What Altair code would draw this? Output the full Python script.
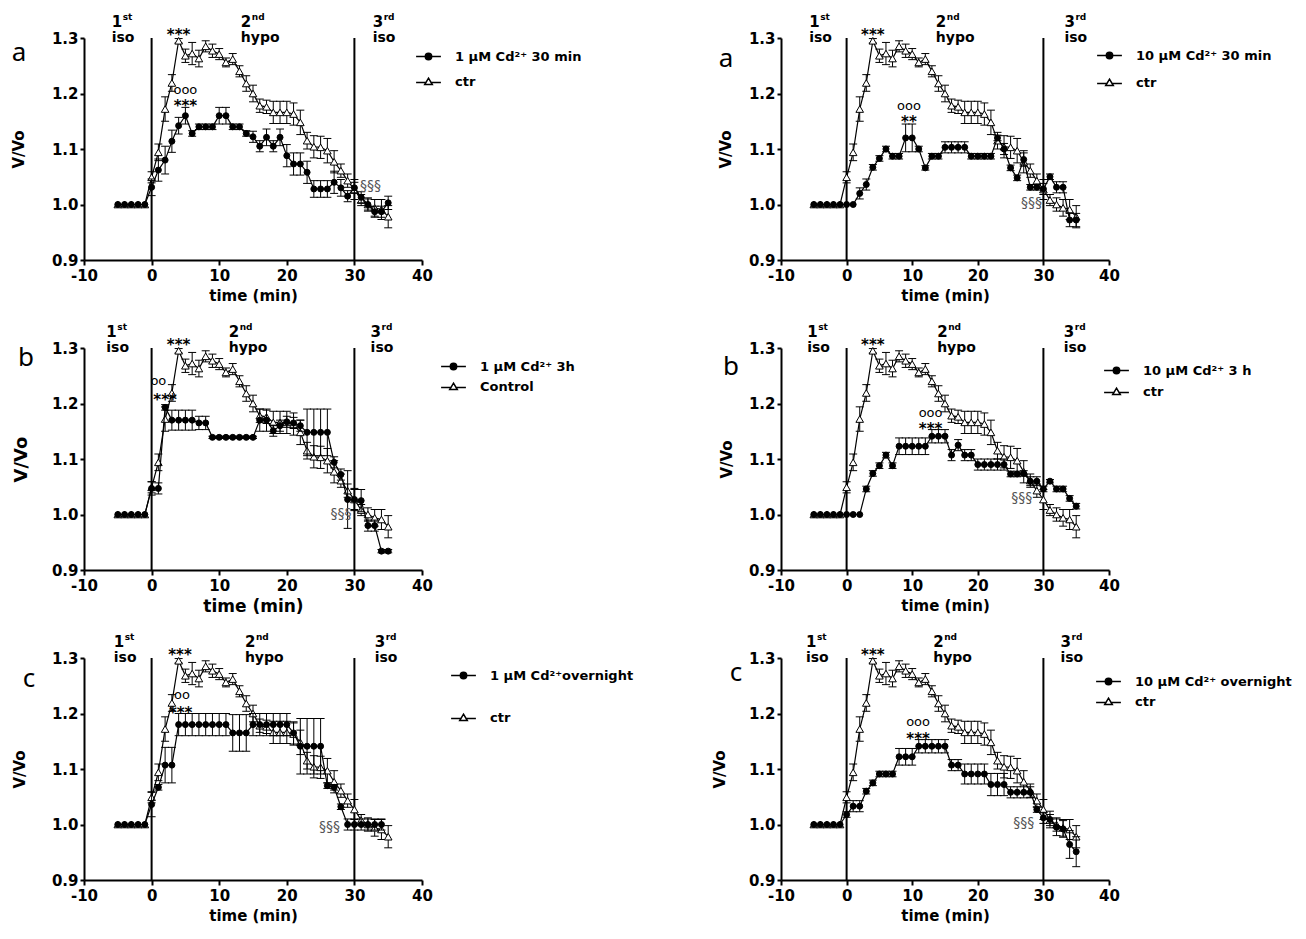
import altair as alt
import pandas as pd

FONT = "DejaVu Sans"
T = list(range(-5, 36))
XTICKS = [-10, 0, 10, 20, 30, 40]
YTICKS = [0.9, 1.0, 1.1, 1.2, 1.3]
VLINES = [0, 30]

CTR_MEAN = [1.000, 1.000, 1.000, 1.000, 1.000,
            1.049, 1.094, 1.172, 1.219, 1.295, 1.268, 1.272, 1.263, 1.285, 1.277,
            1.271, 1.256, 1.262, 1.240, 1.218, 1.200, 1.178, 1.176, 1.166, 1.166,
            1.166, 1.163, 1.148, 1.115, 1.104, 1.103, 1.097, 1.077, 1.061, 1.043,
            1.027, 1.008, 1.000, 0.994, 0.991, 0.978]
CTR_ERR = [0, 0, 0, 0, 0,
           0.010, 0.015, 0.022, 0.015, 0.004, 0.012, 0.020, 0.015, 0.010, 0.012,
           0.010, 0.008, 0.010, 0.010, 0.014, 0.015, 0.012, 0.012, 0.020, 0.020,
           0.020, 0.020, 0.022, 0.015, 0.020, 0.020, 0.022, 0.020, 0.012, 0.012,
           0.018, 0.010, 0.012, 0.015, 0.018, 0.020]

CD1_30_MEAN = [1.000, 1.000, 1.000, 1.000, 1.000,
               1.031, 1.062, 1.080, 1.114, 1.142, 1.160, 1.128, 1.140, 1.140, 1.140,
               1.160, 1.160, 1.140, 1.140, 1.128, 1.122, 1.105, 1.121, 1.105, 1.121,
               1.088, 1.073, 1.073, 1.058, 1.028, 1.028, 1.028, 1.040, 1.030, 1.015,
               1.030, 1.013, 1.000, 0.987, 0.987, 1.003]
CD1_30_ERR = [0, 0, 0, 0, 0,
              0.015, 0.020, 0.025, 0.020, 0.015, 0.015, 0.005, 0.005, 0.005, 0.005,
              0.015, 0.015, 0.005, 0.005, 0.005, 0.010, 0.010, 0.015, 0.010, 0.015,
              0.020, 0.020, 0.020, 0.020, 0.015, 0.015, 0.015, 0.020, 0.015, 0.010,
              0.010, 0.010, 0.010, 0.010, 0.010, 0.012]

CD10_30_MEAN = [1.000, 1.000, 1.000, 1.000, 1.000, 1.000, 1.000,
                1.020, 1.036, 1.067, 1.083, 1.100, 1.087, 1.087, 1.120,
                1.120, 1.100, 1.066, 1.087, 1.087, 1.103, 1.103, 1.103, 1.103, 1.087,
                1.087, 1.087, 1.087, 1.120, 1.100, 1.066, 1.048, 1.081, 1.031, 1.031,
                1.028, 1.050, 1.031, 1.031, 0.972, 0.972]
CD10_30_ERR = [0, 0, 0, 0, 0, 0, 0,
               0.010, 0.010, 0.005, 0.005, 0.005, 0.005, 0.005, 0.025,
               0.025, 0.005, 0.004, 0.005, 0.005, 0.010, 0.010, 0.010, 0.010, 0.005,
               0.005, 0.005, 0.005, 0.005, 0.010, 0.005, 0.005, 0.012, 0.005, 0.005,
               0.010, 0.005, 0.010, 0.010, 0.012, 0.012]

CD1_3H_MEAN = [1.000, 1.000, 1.000, 1.000, 1.000,
               1.047, 1.047, 1.193, 1.170, 1.170, 1.170, 1.170, 1.165, 1.165, 1.139,
               1.139, 1.139, 1.139, 1.139, 1.139, 1.139, 1.170, 1.170, 1.151, 1.160,
               1.167, 1.165, 1.160, 1.148, 1.148, 1.148, 1.148, 1.094, 1.072, 1.027,
               1.027, 1.025, 0.980, 0.980, 0.934, 0.934]
CD1_3H_ERR = [0, 0, 0, 0, 0,
              0.012, 0.010, 0.005, 0.018, 0.018, 0.018, 0.018, 0.012, 0.012, 0.002,
              0.002, 0.002, 0.002, 0.002, 0.002, 0.002, 0.020, 0.020, 0.010, 0.010,
              0.010, 0.010, 0.010, 0.042, 0.042, 0.042, 0.042, 0.010, 0.010, 0.052,
              0.020, 0.020, 0.010, 0.010, 0.003, 0.003]

CD10_3H_MEAN = [1.000, 1.000, 1.000, 1.000, 1.000, 1.000, 1.000, 1.000,
                1.046, 1.074, 1.088, 1.107, 1.088, 1.123, 1.123,
                1.123, 1.123, 1.123, 1.141, 1.141, 1.141, 1.107, 1.125, 1.107, 1.107,
                1.090, 1.090, 1.090, 1.090, 1.090, 1.073, 1.073, 1.074, 1.060, 1.060,
                1.046, 1.060, 1.046, 1.046, 1.029, 1.015]
CD10_3H_ERR = [0, 0, 0, 0, 0, 0, 0, 0,
               0.005, 0.005, 0.005, 0.005, 0.005, 0.015, 0.015,
               0.015, 0.015, 0.015, 0.012, 0.012, 0.012, 0.010, 0.010, 0.010, 0.010,
               0.010, 0.010, 0.010, 0.010, 0.010, 0.005, 0.005, 0.005, 0.008, 0.008,
               0.005, 0.003, 0.005, 0.005, 0.005, 0.005]

CD1_ON_MEAN = [1.000, 1.000, 1.000, 1.000, 1.000,
               1.036, 1.067, 1.107, 1.107, 1.180, 1.180, 1.180, 1.180, 1.180, 1.180,
               1.180, 1.180, 1.165, 1.165, 1.165, 1.180, 1.180, 1.180, 1.180, 1.180,
               1.180, 1.165, 1.141, 1.141, 1.141, 1.141, 1.070, 1.067, 1.032, 1.000,
               1.000, 1.000, 1.000, 1.000, 1.000, None]
CD1_ON_ERR = [0, 0, 0, 0, 0,
              0.022, 0.005, 0.032, 0.032, 0.020, 0.020, 0.020, 0.020, 0.020, 0.020,
              0.020, 0.020, 0.033, 0.033, 0.033, 0.020, 0.020, 0.020, 0.020, 0.020,
              0.020, 0.020, 0.050, 0.050, 0.050, 0.050, 0.005, 0.005, 0.005, 0.010,
              0.010, 0.010, 0.010, 0.010, 0.010, None]

CD10_ON_MEAN = [1.000, 1.000, 1.000, 1.000, 1.000,
                1.018, 1.033, 1.033, 1.060, 1.075, 1.091, 1.091, 1.091, 1.122, 1.122,
                1.122, 1.141, 1.141, 1.141, 1.141, 1.141, 1.107, 1.107, 1.091, 1.091,
                1.091, 1.091, 1.072, 1.072, 1.072, 1.058, 1.058, 1.058, 1.058, 1.027,
                1.012, 1.009, 0.995, 0.992, 0.964, 0.951]
CD10_ON_ERR = [0, 0, 0, 0, 0,
               0.005, 0.010, 0.010, 0.005, 0.005, 0.005, 0.005, 0.005, 0.015, 0.015,
               0.015, 0.012, 0.012, 0.012, 0.012, 0.012, 0.010, 0.010, 0.018, 0.018,
               0.018, 0.018, 0.020, 0.020, 0.020, 0.010, 0.010, 0.010, 0.010, 0.005,
               0.010, 0.015, 0.015, 0.015, 0.025, 0.027]

CIRCLE_PATH = ("M-3.1,0H-0.8M0.8,0H3.1"
               "M0.8,0A0.8,0.8,0,1,1,-0.8,0A0.8,0.8,0,1,1,0.8,0Z")
TRI_PATH = "M-3.1,0.25H-0.66M0.66,0.25H3.1M0,-0.85L0.95,0.75L-0.95,0.75Z"

PANELS = [
    dict(mean=CD1_30_MEAN, err=CD1_30_ERR, cd="1 μM Cd²⁺ 30 min", ctr="ctr",
         letter="a", lx=-65, ly=23, width=338, yts=15, ytp=25, xts=15,
         leg=(330, 18, 25), periods=(-5.9, 13.2, 32.7),
         notes=[("***", 4, 1.312, "star"), ("ooo", 5, 1.205, "circ"),
                ("***", 5, 1.185, "star"), ("§§§", 32.4, 1.034, "sec")]),
    dict(mean=CD10_30_MEAN, err=CD10_30_ERR, cd="10 μM Cd²⁺ 30 min", ctr="ctr",
         letter="a", lx=-55, ly=29, width=328, yts=15, ytp=15, xts=15,
         leg=(314, 17, 27), periods=(-5.7, 13.6, 33.2),
         notes=[("***", 4, 1.312, "star"), ("ooo", 9.5, 1.175, "circ"),
                ("**", 9.5, 1.155, "star"), ("§§§", 28.2, 1.003, "sec")]),
    dict(mean=CD1_3H_MEAN, err=CD1_3H_ERR, cd="1 μM Cd²⁺ 3h", ctr="Control",
         letter="b", lx=-58, ly=18, width=338, yts=18, ytp=21, xts=17,
         leg=(355, 18, 20), periods=(-6.7, 11.4, 32.4),
         notes=[("***", 4, 1.312, "star"), ("oo", 1.0, 1.238, "circ"),
                ("***", 2.0, 1.214, "star"), ("§§§", 28.0, 1.001, "sec")]),
    dict(mean=CD10_3H_MEAN, err=CD10_3H_ERR, cd="10 μM Cd²⁺ 3 h", ctr="ctr",
         letter="b", lx=-50, ly=27, width=328, yts=15, ytp=14, xts=15,
         leg=(321, 22, 21), periods=(-6.0, 13.8, 33.1),
         notes=[("***", 4, 1.312, "star"), ("ooo", 12.8, 1.181, "circ"),
                ("***", 12.8, 1.161, "star"), ("§§§", 26.7, 1.030, "sec")]),
    dict(mean=CD1_ON_MEAN, err=CD1_ON_ERR, cd="1 μM Cd²⁺overnight", ctr="ctr",
         letter="c", lx=-55, ly=29, width=338, yts=15, ytp=24, xts=15,
         leg=(365, 17, 42), periods=(-5.6, 13.8, 33.0),
         notes=[("***", 4.2, 1.312, "star"), ("oo", 4.5, 1.232, "circ"),
                ("***", 4.3, 1.208, "star"), ("§§§", 26.3, 0.995, "sec")]),
    dict(mean=CD10_ON_MEAN, err=CD10_ON_ERR, cd="10 μM Cd²⁺ overnight", ctr="ctr",
         letter="c", lx=-45, ly=23, width=328, yts=15, ytp=21, xts=15,
         leg=(313, 23, 20), periods=(-6.2, 13.2, 32.6),
         notes=[("***", 4, 1.312, "star"), ("ooo", 10.9, 1.183, "circ"),
                ("***", 10.9, 1.162, "star"), ("§§§", 27.0, 1.003, "sec")]),
]

NOTE_STYLE = {
    "star": dict(fontSize=15, fontWeight="bold", color="black", dy=9),
    "circ": dict(fontSize=13, fontWeight="normal", color="black", dy=3),
    "sec": dict(fontSize=14, fontWeight="normal", color="#555555", dy=4),
}


def series_frame(p):
    rows = []
    for name, means, errs in (("ctr", CTR_MEAN, CTR_ERR), ("cd", p["mean"], p["err"])):
        for t, m, e in zip(T, means, errs):
            if m is None:
                continue
            rows.append({"t": t, "v": m, "lo": m - e, "hi": m + e, "e": e, "series": name})
    return pd.DataFrame(rows)


def make_panel(p):
    xs = alt.Scale(domain=[-10, 40], nice=False, zero=False)
    ys = alt.Scale(domain=[0.9, 1.3], nice=False, zero=False)
    xax = alt.Axis(values=XTICKS, title="time (min)", titleFont=FONT,
                   titleFontSize=p["xts"], titleFontWeight="bold", titleColor="black",
                   titlePadding=5, labelFont=FONT, labelFontSize=15,
                   labelFontWeight="bold", labelColor="black", labelPadding=3,
                   labelExpr="'' + datum.value",
                   tickSize=5, tickWidth=2, tickColor="black", domainColor="black",
                   domainWidth=2, grid=False, labelFlush=False)
    yax = alt.Axis(values=YTICKS, format=".1f", title="V/Vo", titleFont=FONT,
                   titleFontSize=p["yts"], titleFontWeight="bold", titleColor="black",
                   titlePadding=p["ytp"], labelFont=FONT, labelFontSize=15,
                   labelFontWeight="bold", labelColor="black", labelPadding=2,
                   tickSize=4, tickWidth=2, tickColor="black", domainColor="black",
                   domainWidth=2, grid=False, labelFlush=False)
    X = alt.X("t:Q", scale=xs, axis=xax)

    def Y(f):
        return alt.Y(f"{f}:Q", scale=ys, axis=yax)

    df = series_frame(p)
    layers = [alt.Chart(pd.DataFrame({"t": VLINES})).mark_rule(
        color="black", strokeWidth=2).encode(x=X)]

    styles = {
        "ctr": dict(shape="triangle-up", filled=True, fill="white", stroke="black",
                    strokeWidth=1, size=58, opacity=1),
        "cd": dict(shape="circle", filled=True, fill="black", stroke="black",
                   strokeWidth=1, size=36, opacity=1),
    }
    for name in ("ctr", "cd"):
        sub = df[df.series == name]
        eb = alt.Chart(sub[sub.e > 0])
        layers += [
            eb.mark_rule(color="black", strokeWidth=1).encode(
                x=X, y=Y("lo"), y2=alt.Y2("hi:Q")),
            eb.mark_tick(orient="horizontal", color="black", thickness=1, size=8,
                         opacity=1).encode(x=X, y=Y("lo")),
            eb.mark_tick(orient="horizontal", color="black", thickness=1, size=8,
                         opacity=1).encode(x=X, y=Y("hi")),
            alt.Chart(sub).mark_line(color="black", strokeWidth=1.2).encode(x=X, y=Y("v")),
            alt.Chart(sub).mark_point(**styles[name]).encode(x=X, y=Y("v")),
        ]

    px1, px2, px3 = p["periods"]
    per = pd.DataFrame({"t": [px1, px2, px3], "num": ["1", "2", "3"],
                        "sup": ["st", "nd", "rd"], "word": ["iso", "hypo", "iso"]})
    pc = alt.Chart(per)
    layers += [
        pc.mark_text(align="left", baseline="alphabetic", font=FONT, fontSize=15,
                     fontWeight="bold", color="black").encode(
            x=X, y=alt.value(-11), text="num:N"),
        pc.mark_text(align="left", baseline="alphabetic", font=FONT, fontSize=9,
                     fontWeight="bold", color="black", dx=11).encode(
            x=X, y=alt.value(-18), text="sup:N"),
        pc.mark_text(align="left", baseline="alphabetic", font=FONT, fontSize=14,
                     fontWeight="bold", color="black").encode(
            x=X, y=alt.value(4), text="word:N"),
    ]

    notes = pd.DataFrame(p["notes"], columns=["label", "t", "v", "kind"])
    for kind, st in NOTE_STYLE.items():
        sub = notes[notes.kind == kind]
        layers.append(alt.Chart(sub).mark_text(
            align="center", baseline="alphabetic", font=FONT, **st).encode(
            x=X, y=Y("v"), text="label:N"))

    lx0, ly0, gap = p["leg"]
    for i, (label, path, fill) in enumerate(((p["cd"], CIRCLE_PATH, "black"),
                                             (p["ctr"], TRI_PATH, "white"))):
        leg = alt.Legend(orient="none", legendX=lx0 + 8, legendY=ly0 - 6 + i * gap,
                         title=None, labelFont=FONT, labelFontSize=13,
                         labelFontWeight="bold", labelColor="black", symbolSize=64,
                         labelOffset=20, labelLimit=400, padding=0, symbolOpacity=1)
        layers.append(alt.Chart(pd.DataFrame({"label": [label]})).mark_point(
            clip=True, filled=True, fill=fill, stroke="black", strokeWidth=1,
            size=64, opacity=1).encode(
            x=alt.value(-400), y=alt.value(-400),
            shape=alt.Shape("label:N", scale=alt.Scale(domain=[label], range=[path]),
                            legend=leg)))

    layers.append(alt.Chart(pd.DataFrame({"letter": [p["letter"]]})).mark_text(
        align="center", baseline="alphabetic", font="Noto Sans", fontSize=26,
        color="black").encode(x=alt.value(p["lx"]), y=alt.value(p["ly"]),
                              text="letter:N"))

    return alt.layer(*layers).resolve_scale(shape="independent").resolve_legend(
        shape="independent").properties(width=p["width"], height=222)


panels = [make_panel(p) for p in PANELS]
chart = alt.concat(*panels, columns=2, spacing={"row": 88, "column": 359},
                   bounds="flush", align="each").resolve_scale(
    shape="independent", x="independent", y="independent").resolve_legend(
    shape="independent").configure_view(stroke=None).properties(
    padding={"left": 3, "top": 5, "right": 5, "bottom": 5})

chart.save("out.html", embed_options={"renderer": "svg", "actions": False})
